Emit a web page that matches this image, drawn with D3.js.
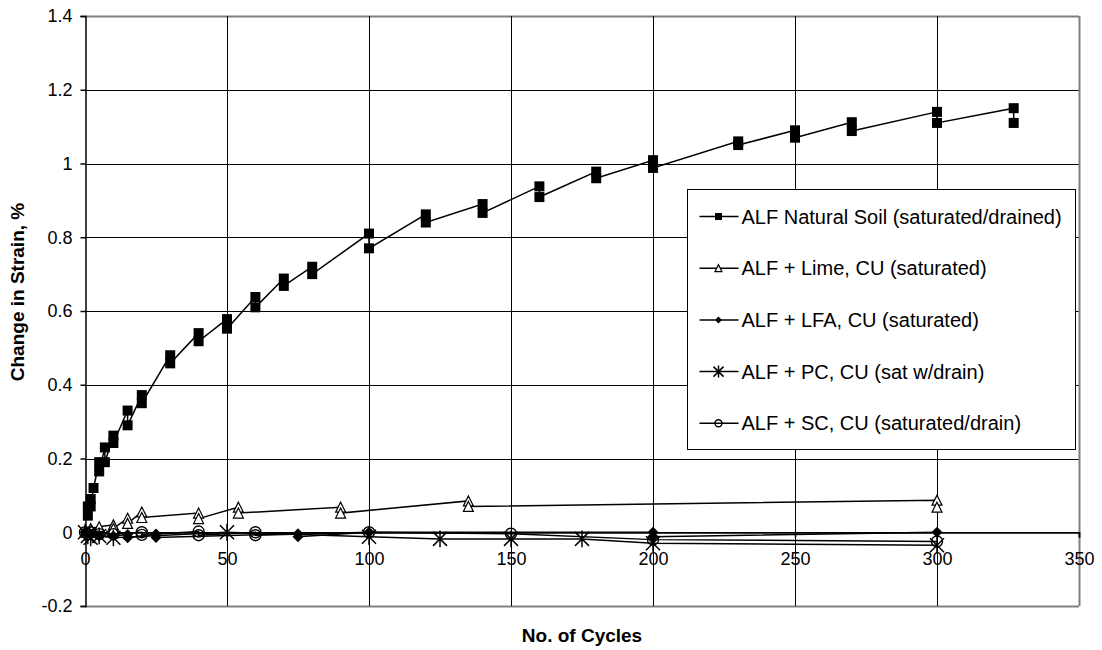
<!DOCTYPE html>
<html>
<head>
	<style>
	body {
		margin: 0;
		background: #fff;
	}
	text {
		font-family: "Liberation Sans", Arial, sans-serif;
	}
	</style>
</head>
<body>
	<script src="https://d3js.org/d3.v7.min.js"></script>
	<script>
	// data (x = no. of cycles, y = change in strain %)
	var naturalX = [1, 1, 2, 2, 3, 5, 5, 7, 7, 10, 10, 15, 15, 20, 20, 30, 30, 40, 40, 50, 50, 60, 60, 70, 70, 80, 80,
		100, 100, 120, 120, 140, 140, 160, 160, 180, 180, 200, 200, 230, 230, 250, 250, 270, 270, 300, 300, 327, 327];
	var naturalY = [0.07, 0.045, 0.09, 0.07, 0.12, 0.19, 0.165, 0.23, 0.19, 0.262, 0.242, 0.33, 0.29, 0.372, 0.35, 0.48, 0.458, 0.54, 0.518, 0.578, 0.552, 0.638, 0.61, 0.688, 0.668, 0.72, 0.7,
		0.81, 0.77, 0.862, 0.84, 0.89, 0.866, 0.938, 0.909, 0.978, 0.96, 1.009, 0.988, 1.06, 1.05, 1.09, 1.07, 1.112, 1.088, 1.14, 1.11, 1.15, 1.11];

	var limeX = [0, 2, 5, 10, 10, 15, 15, 20, 20, 40, 40, 54, 54, 90, 90, 135, 135, 300, 300];
	var limeY = [0, 0.01, 0.015, 0.02, 0.01, 0.038, 0.024, 0.055, 0.04, 0.052, 0.037, 0.068, 0.052, 0.068, 0.052, 0.085, 0.07, 0.087, 0.068];

	var lfaX = [0, 2, 5, 10, 15, 15, 25, 25, 75, 75, 100, 200, 200, 300];
	var lfaY = [0, -0.005, -0.01, -0.01, -0.006, -0.015, -0.005, -0.014, -0.004, -0.012, 0, 0, -0.012, 0];

	var pcX = [0, 1, 2, 5, 10, 50, 100, 125, 150, 175, 200, 300];
	var pcY = [0, -0.01, -0.015, -0.01, -0.015, 0, -0.012, -0.018, -0.018, -0.018, -0.03, -0.035];

	var scX = [0, 1, 2, 5, 10, 20, 20, 40, 40, 60, 60, 100, 150, 200, 300];
	var scY = [0, -0.005, 0, -0.005, -0.005, 0, -0.007, 0.002, -0.008, 0, -0.008, 0, -0.004, -0.02, -0.025];

	var seriesNames = ["ALF Natural Soil (saturated/drained)", "ALF + Lime, CU (saturated)", "ALF + LFA, CU (saturated)",
		"ALF + PC, CU (sat w/drain)", "ALF + SC, CU (saturated/drain)"];
	var seriesMarkers = ["square", "triangle", "diamond", "star", "circle"];

	var xTicks = [0, 50, 100, 150, 200, 250, 300, 350];
	var yTicks = [-0.2, 0, 0.2, 0.4, 0.6, 0.8, 1, 1.2, 1.4];
	var yTickLabels = ["-0.2", "0", "0.2", "0.4", "0.6", "0.8", "1", "1.2", "1.4"];

	var width = 1102, height = 650;

	var svg = d3.select("body").append("svg")
		.attr("width", width)
		.attr("height", height);

	var x = d3.scaleLinear().domain([0, 350]).range([85, 1079]);
	var y = d3.scaleLinear().domain([-0.2, 1.4]).range([606, 16]);

	// gridlines
	svg.append("g").selectAll("line")
		.data(yTicks)
		.enter().append("line")
			.attr("x1", x(0))
			.attr("x2", x(350))
			.attr("y1", function(d){ return Math.round(y(d)) + 0.5; })
			.attr("y2", function(d){ return Math.round(y(d)) + 0.5; })
			.attr("stroke", function(d){ return (d == 1.4 || d == -0.2) ? "#808080" : "#000"; })
			.attr("stroke-width", function(d){ return (d == 1.4 || d == -0.2) ? 2 : 1; });

	svg.append("g").selectAll("line")
		.data(xTicks.slice(1))
		.enter().append("line")
			.attr("x1", function(d){ return Math.round(x(d)) + 0.5; })
			.attr("x2", function(d){ return Math.round(x(d)) + 0.5; })
			.attr("y1", y(1.4))
			.attr("y2", y(-0.2))
			.attr("stroke", function(d){ return d == 350 ? "#808080" : "#000"; })
			.attr("stroke-width", function(d){ return d == 350 ? 2 : 1; });

	// axes
	var yAxis = svg.append("g")
		.attr("transform", "translate(" + (Math.round(x(0)) + 0.5) + ",0)")
		.call(d3.axisLeft(y)
			.tickValues(yTicks)
			.tickSize(5)
			.tickPadding(8)
			.tickFormat(function(d, i){ return yTickLabels[i]; }));

	var xAxis = svg.append("g")
		.attr("transform", "translate(0," + (Math.round(y(0)) + 0.5) + ")")
		.call(d3.axisBottom(x)
			.tickValues(xTicks)
			.tickSize(5)
			.tickPadding(15)
			.tickFormat(d3.format("d")));

	[yAxis, xAxis].forEach(function(g){
		g.selectAll("text")
			.style("font-family", "'Liberation Sans', Arial, sans-serif")
			.style("font-size", "18px")
			.attr("fill", "#000");
		g.selectAll("line, path").attr("stroke", "#000").attr("stroke-width", 1.5);
	});

	// markers
	function drawMarker(g, type, s){
		var r = s / 2;
		if (type == "square") {
			g.append("rect").attr("x", -r).attr("y", -r).attr("width", s).attr("height", s)
				.attr("fill", "#000");
		} else if (type == "triangle") {
			g.append("path").attr("d", "M0," + (-r) + "L" + r + "," + r + "L" + (-r) + "," + r + "Z")
				.attr("fill", "#fff").attr("stroke", "#000").attr("stroke-width", 1.2);
		} else if (type == "diamond") {
			g.append("path").attr("d", "M0," + (-r) + "L" + r + ",0L0," + r + "L" + (-r) + ",0Z")
				.attr("fill", "#000");
		} else if (type == "star") {
			var a = r * 1.2;
			g.append("path").attr("d", "M" + (-r) + "," + (-r) + "L" + r + "," + r +
				"M" + (-r) + "," + r + "L" + r + "," + (-r) + "M0," + (-a) + "L0," + a)
				.attr("fill", "none").attr("stroke", "#000").attr("stroke-width", 1.5);
		} else if (type == "circle") {
			g.append("circle").attr("r", r)
				.attr("fill", "none").attr("stroke", "#000").attr("stroke-width", 1.4);
		}
	}

	var series = [
		{ xs: naturalX, ys: naturalY },
		{ xs: limeX, ys: limeY },
		{ xs: lfaX, ys: lfaY },
		{ xs: pcX, ys: pcY },
		{ xs: scX, ys: scY }
	];

	var line = d3.line()
		.x(function(d){ return x(d[0]); })
		.y(function(d){ return y(d[1]); });

	var markerSize = [10, 10, 11, 14, 11];

	series.forEach(function(s, i){
		var pts = s.xs.map(function(v, j){ return [v, s.ys[j]]; });

		svg.append("path")
			.attr("d", line(pts))
			.attr("fill", "none")
			.attr("stroke", "#000")
			.attr("stroke-width", 1.5);

		svg.append("g").selectAll("g")
			.data(pts)
			.enter().append("g")
				.attr("transform", function(d){ return "translate(" + x(d[0]) + "," + y(d[1]) + ")"; })
				.each(function(){ drawMarker(d3.select(this), seriesMarkers[i], markerSize[i]); });
	});

	// legend
	var legend = svg.append("g").attr("transform", "translate(687.5,189.5)");

	legend.append("rect")
		.attr("width", 388)
		.attr("height", 260)
		.attr("fill", "#fff")
		.attr("stroke", "#000");

	seriesNames.forEach(function(name, i){
		var ly = 27 + i * 51.7;
		legend.append("line")
			.attr("x1", 12).attr("x2", 51)
			.attr("y1", ly).attr("y2", ly)
			.attr("stroke", "#000").attr("stroke-width", 1.5);
		var m = legend.append("g").attr("transform", "translate(31," + ly + ")");
		drawMarker(m, seriesMarkers[i], i == 3 ? 10 : 7);
		legend.append("text")
			.attr("x", 54)
			.attr("y", ly)
			.attr("dy", "0.35em")
			.style("font-size", "20px")
			.text(name);
	});

	// axis titles
	svg.append("text")
		.attr("x", x(175))
		.attr("y", 642)
		.attr("text-anchor", "middle")
		.style("font-size", "19px")
		.style("font-weight", "bold")
		.text("No. of Cycles");

	svg.append("text")
		.attr("transform", "translate(24,292) rotate(-90)")
		.attr("text-anchor", "middle")
		.style("font-size", "19px")
		.style("font-weight", "bold")
		.text("Change in Strain, %");
	</script>
</body>
</html>
